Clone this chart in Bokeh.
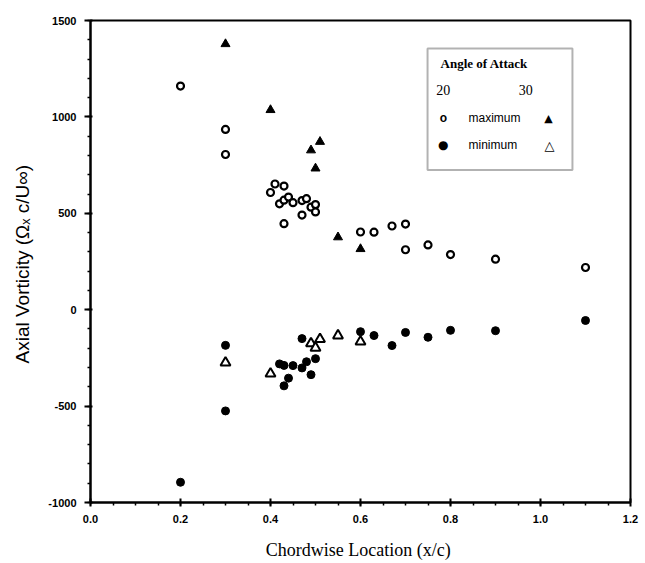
from bokeh.plotting import figure
from bokeh.models import FixedTicker, Label, BoxAnnotation, Range1d
from bokeh.embed import file_html
from bokeh.resources import INLINE

# ---- data ----
x20_max = [0.20, 0.30, 0.30, 0.41, 0.43, 0.40, 0.42, 0.43, 0.44, 0.45, 0.47, 0.48, 0.49,
           0.50, 0.50, 0.47, 0.43, 0.60, 0.63, 0.67, 0.70, 0.70, 0.75, 0.80, 0.90, 1.10]
y20_max = [1160, 935, 805, 652, 641, 608, 549, 568, 584, 555, 566, 576, 532,
           545, 507, 491, 446, 403, 402, 434, 444, 311, 336, 286, 262, 219]

x30_max = [0.30, 0.40, 0.51, 0.49, 0.50, 0.55, 0.60]
y30_max = [1378, 1036, 871, 827, 733, 376, 315]

x20_min = [0.20, 0.30, 0.30, 0.42, 0.43, 0.43, 0.44, 0.45, 0.47, 0.47, 0.48, 0.49, 0.50,
           0.60, 0.63, 0.67, 0.70, 0.75, 0.80, 0.90, 1.10]
y20_min = [-895, -185, -525, -281, -289, -395, -355, -290, -150, -302, -270, -337, -254,
           -114, -134, -186, -118, -143, -107, -109, -56]

x30_min = [0.30, 0.40, 0.49, 0.50, 0.51, 0.55, 0.60]
y30_min = [-275, -332, -175, -198, -153, -134, -166]

x_ticks = [0.0, 0.2, 0.4, 0.6, 0.8, 1.0, 1.2]
x_tick_labels = ["0.0", "0.2", "0.4", "0.6", "0.8", "1.0", "1.2"]
y_ticks = [-1000, -500, 0, 500, 1000, 1500]
y_tick_labels = ["-1000", "-500", "0", "500", "1000", "1500"]

p = figure(width=645, height=563, output_backend="svg", toolbar_location=None,
           x_range=Range1d(0, 1.2), y_range=Range1d(-1000, 1500),
           min_border_left=90, min_border_right=15, min_border_top=20, min_border_bottom=61)
p.xgrid.visible = False
p.ygrid.visible = False
p.outline_line_color = "black"
p.outline_line_width = 2
p.background_fill_color = "white"
p.border_fill_color = "white"

# axes
p.xaxis.ticker = FixedTicker(ticks=x_ticks, minor_ticks=[i * 0.05 for i in range(25)])
p.xaxis.major_label_overrides = {t: l for t, l in zip(x_ticks, x_tick_labels)}
p.yaxis.ticker = FixedTicker(ticks=y_ticks, minor_ticks=list(range(-1000, 1501, 100)))
p.yaxis.major_label_overrides = {t: l for t, l in zip(y_ticks, y_tick_labels)}

for ax in (p.xaxis[0], p.yaxis[0]):
    ax.axis_line_width = 2
    ax.axis_line_color = "black"
    ax.major_tick_line_width = 2
    ax.minor_tick_line_width = 1.5
    ax.major_tick_line_color = "black"
    ax.minor_tick_line_color = "black"
    ax.major_label_text_font = "Liberation Sans"
    ax.major_label_text_font_style = "bold"
    ax.major_label_text_font_size = "11px"
    ax.major_label_text_color = "black"

p.xaxis.major_tick_in = 4
p.xaxis.major_tick_out = 4
p.xaxis.minor_tick_in = 0
p.xaxis.minor_tick_out = 3
p.xaxis.major_label_standoff = 8
p.yaxis.major_tick_in = 2
p.yaxis.major_tick_out = 6
p.yaxis.minor_tick_in = 0
p.yaxis.minor_tick_out = 3
p.yaxis.major_label_standoff = 8

p.xaxis.axis_label = "Chordwise Location  (x/c)"
p.xaxis.axis_label_text_font = "Liberation Serif"
p.xaxis.axis_label_text_font_style = "normal"
p.xaxis.axis_label_text_font_size = "18px"
p.xaxis.axis_label_text_color = "black"
p.xaxis.axis_label_standoff = 14

p.yaxis.axis_label = "Axial Vorticity (Ωₓ  c/U∞)"
p.yaxis.axis_label_text_font = "Liberation Sans"
p.yaxis.axis_label_text_font_style = "normal"
p.yaxis.axis_label_text_font_size = "19px"
p.yaxis.axis_label_text_color = "black"
p.yaxis.axis_label_standoff = 12

# data marks
p.scatter(x20_min, y20_min, marker="circle", size=8, fill_color="black", line_color="black")
p.scatter(x30_min, y30_min, marker="triangle", size=10, fill_color="white",
          line_color="black", line_width=2)
p.scatter(x20_max, y20_max, marker="circle", size=7, fill_color="white",
          line_color="black", line_width=2.2)
p.scatter(x30_max, y30_max, marker="triangle", size=9, fill_color="black", line_color="black")

# legend (drawn manually: two-column key)
p.add_layout(BoxAnnotation(left=0.749, right=1.071, bottom=725, top=1355,
                           fill_color="white", fill_alpha=1.0,
                           line_color="black", line_width=2))

def lab(x, y, text, font="Liberation Sans", size="12px", style="normal", align="left"):
    p.add_layout(Label(x=x, y=y, text=text, text_font=font, text_font_size=size,
                       text_font_style=style, text_align=align, text_baseline="middle",
                       text_color="black"))

lab(0.778, 1277, "Angle of Attack", font="Liberation Serif", size="13px", style="bold")
lab(0.784, 1137, "20", font="Liberation Serif", size="14px", align="center")
lab(0.967, 1137, "30", font="Liberation Serif", size="14px", align="center")
lab(0.784, 992, "o", font="Liberation Sans", size="12px", style="bold", align="center")
lab(0.840, 992, "maximum", size="12px")
lab(1.018, 992, "▲", font="DejaVu Sans", size="11px", align="center")
lab(0.784, 852, "●", font="DejaVu Sans", size="12px", align="center")
lab(0.840, 852, "minimum", size="12px")
lab(1.020, 852, "△", font="DejaVu Sans", size="13px", style="bold", align="center")

open("out.html", "w").write(file_html(p, INLINE))
